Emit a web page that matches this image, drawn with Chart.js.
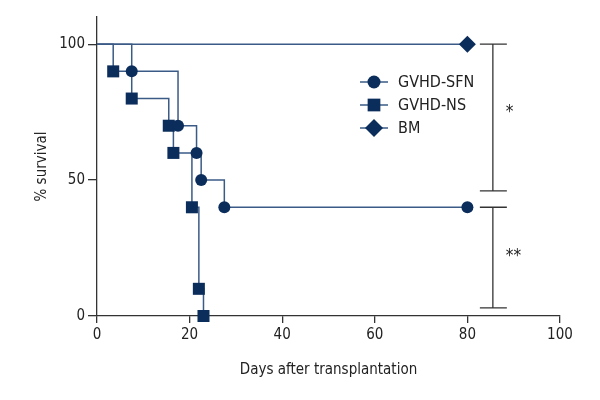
<!DOCTYPE html>
<html>
<head>
<meta charset="utf-8">
<script src="https://cdn.jsdelivr.net/npm/chart.js@4"></script>
<style>
  html, body { margin: 0; padding: 0; background: #fff; }
  #wrap { width: 600px; height: 400px; }
</style>
</head>
<body>
<div id="wrap"><canvas id="survivalChart"></canvas></div>
<script>
// Kaplan-Meier data (days, % survival)
const seriesNames = ['GVHD-SFN', 'GVHD-NS', 'BM'];
const sfnDays = [0, 7.5, 17.5, 21.5, 22.5, 27.5, 80];
const sfnSurvival = [100, 90, 70, 60, 50, 40, 40];
const nsDays = [0, 3.5, 7.5, 15.5, 16.5, 20.5, 22, 23];
const nsSurvival = [100, 90, 80, 70, 60, 40, 10, 0];
const bmDays = [0, 80];
const bmSurvival = [100, 100];

const xTicks = [0, 20, 40, 60, 80, 100];
const yTicks = [0, 50, 100];

// significance brackets: [from %, to %], label and where the label sits (%)
const bracketRanges = [[100, 46], [40, 3]];
const bracketLabels = ['*', '**'];
const bracketLabelAt = [76, 23];
const bracketDay = 85.5;

const FONT = "'DejaVu Sans Condensed', 'Liberation Sans Narrow', sans-serif";
const lineColor = '#3b5b86';
const markColor = '#0b2d5b';
const axisColor = '#333333';

const toXY = (xs, ys) => xs.map((x, i) => ({ x: x, y: ys[i] }));

const kmSet = (label, xs, ys, style, radius) => ({
    label: label,
    data: toXY(xs, ys),
    stepped: true,
    borderColor: lineColor,
    borderWidth: 1.5,
    pointStyle: style,
    pointRadius: ctx => ctx.dataIndex === 0 ? 0 : radius,
    pointHoverRadius: ctx => ctx.dataIndex === 0 ? 0 : radius,
    pointBackgroundColor: markColor,
    pointBorderColor: markColor,
    pointBorderWidth: 0,
    clip: false,
    fill: false
});

// brackets + stars on the right side
const bracketPlugin = {
    id: 'brackets',
    afterDraw(chart) {
        const { ctx, scales: { x, y } } = chart;
        const bx = x.getPixelForValue(bracketDay);
        ctx.save();
        ctx.strokeStyle = axisColor;
        ctx.lineWidth = 1.3;
        ctx.fillStyle = '#222';
        ctx.font = '17px ' + FONT;
        ctx.textAlign = 'left';
        ctx.textBaseline = 'middle';
        bracketRanges.forEach((r, i) => {
            const y1 = y.getPixelForValue(r[0]);
            const y2 = y.getPixelForValue(r[1]);
            ctx.beginPath();
            ctx.moveTo(bx, y1); ctx.lineTo(bx, y2);
            ctx.moveTo(bx - 13, y1); ctx.lineTo(bx + 14, y1);
            ctx.moveTo(bx - 13, y2); ctx.lineTo(bx + 14, y2);
            ctx.stroke();
            ctx.fillText(bracketLabels[i], bx + 13, y.getPixelForValue(bracketLabelAt[i]) + 3.5);
        });
        ctx.restore();
    }
};

// legend: short line with marker, then name
const legendPlugin = {
    id: 'kmLegend',
    afterDraw(chart) {
        const ctx = chart.ctx;
        const x0 = 360, rowY = [82, 105, 128];
        ctx.save();
        chart.data.datasets.forEach((ds, i) => {
            const yy = rowY[i];
            ctx.strokeStyle = lineColor;
            ctx.lineWidth = 1.5;
            ctx.beginPath();
            ctx.moveTo(x0, yy); ctx.lineTo(x0 + 28, yy);
            ctx.stroke();
            ctx.fillStyle = markColor;
            ctx.strokeStyle = markColor;
            Chart.helpers.drawPoint(ctx, {
                pointStyle: ds.pointStyle,
                radius: ds.pointStyle === 'circle' ? 6.5 : 9,
                borderWidth: 0
            }, x0 + 14, yy);
            ctx.fillStyle = '#222';
            ctx.font = '16px ' + FONT;
            ctx.textAlign = 'left';
            ctx.textBaseline = 'middle';
            ctx.fillText(ds.label, x0 + 38, yy + 1);
        });
        ctx.restore();
    }
};

new Chart(document.getElementById('survivalChart').getContext('2d'), {
    type: 'line',
    data: {
        datasets: [
            kmSet(seriesNames[0], sfnDays, sfnSurvival, 'circle', 6),
            kmSet(seriesNames[1], nsDays, nsSurvival, 'rect', 8.5),
            kmSet(seriesNames[2], bmDays, bmSurvival, 'rectRot', 8.5)
        ]
    },
    options: {
        responsive: true,
        maintainAspectRatio: false,
        animation: false,
        layout: { padding: { top: 17, right: 40, left: 0, bottom: 0 } },
        scales: {
            x: {
                type: 'linear',
                min: 0, max: 100,
                afterBuildTicks: s => { s.ticks = xTicks.map(v => ({ value: v })); },
                afterFit: s => { s.height = 84; },
                ticks: { color: '#222', font: { family: FONT, size: 15 }, padding: 3 },
                grid: { drawOnChartArea: false, drawTicks: true, tickLength: 7, color: axisColor, lineWidth: 1.3 },
                border: { color: axisColor, width: 1.3 },
                title: {
                    display: true,
                    text: 'Days after transplantation',
                    color: '#222',
                    font: { family: FONT, size: 15 },
                    padding: { top: 20, bottom: 21 }
                }
            },
            y: {
                min: 0, max: 110,
                afterBuildTicks: s => { s.ticks = yTicks.map(v => ({ value: v })); },
                afterFit: s => { s.width = 97; },
                ticks: { color: '#222', font: { family: FONT, size: 15 }, padding: 3 },
                grid: { drawOnChartArea: false, drawTicks: true, tickLength: 9, color: axisColor, lineWidth: 1.3 },
                border: { color: axisColor, width: 1.3 },
                title: {
                    display: true,
                    text: '% survival',
                    color: '#222',
                    font: { family: FONT, size: 15 },
                    padding: { top: 33, bottom: 33 }
                }
            }
        },
        plugins: {
            legend: { display: false },
            tooltip: { enabled: false }
        }
    },
    plugins: [bracketPlugin, legendPlugin]
});
</script>
</body>
</html>
